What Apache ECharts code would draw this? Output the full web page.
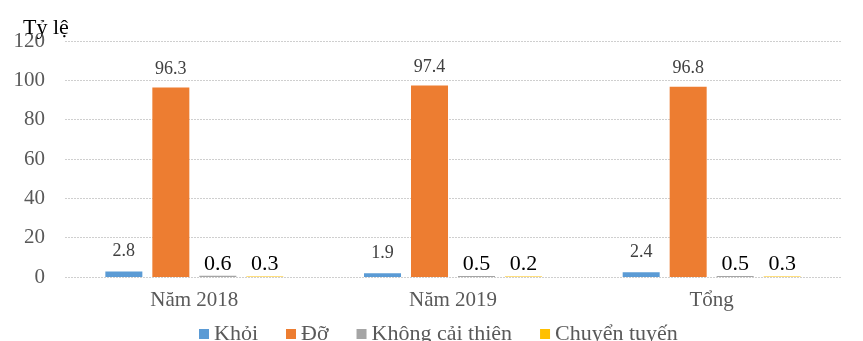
<!DOCTYPE html>
<html>
<head>
<meta charset="utf-8">
<script src="https://cdn.jsdelivr.net/npm/echarts@6/dist/echarts.min.js"></script>
<style>
  html, body { margin: 0; padding: 0; background: #fff; }
  #chart { width: 863px; height: 341px; }
</style>
</head>
<body>
<div id="chart"></div>
<script>
// Outcome rates (%) by year
const categories = ['Năm 2018', 'Năm 2019', 'Tổng'];
const khoi = [2.8, 1.9, 2.4];
const do_ = [96.3, 97.4, 96.8];
const khongCaiThien = [0.6, 0.5, 0.5];
const chuyenTuyen = [0.3, 0.2, 0.3];
const seriesNames = ['Khỏi', 'Đỡ', 'Không cải thiện', 'Chuyển tuyến'];
const yTicks = [0, 20, 40, 60, 80, 100, 120];

const FONT = '"Liberation Serif", "Times New Roman", serif';
const colors = ['#5B9BD5', '#ED7D31', '#A5A5A5', '#FFC000'];

const smallLabel = { show: true, position: 'top', distance: 10, color: '#404040', fontSize: 18, fontFamily: FONT };
const bigLabel = { show: true, position: 'top', distance: 1, color: '#000', fontSize: 22, fontFamily: FONT };

function bar(name, data, color, label) {
  return {
    name, type: 'bar', data, barWidth: 37, barGap: '27%',
    itemStyle: { color }, label, emphasis: { disabled: true }
  };
}

const chart = echarts.init(document.getElementById('chart'));
chart.setOption({
  animation: false,
  color: colors,
  title: {
    text: 'Tỷ lệ', left: 18, top: 12,
    textStyle: { fontFamily: FONT, fontSize: 22, fontWeight: 'normal', color: '#000' }
  },
  grid: { left: 65, right: 22, top: 41, bottom: 64 },
  legend: {
    data: seriesNames, left: 194, top: 318,
    icon: 'rect', itemWidth: 10, itemHeight: 10, itemGap: 28,
    textStyle: { fontFamily: FONT, fontSize: 22, color: '#595959' }
  },
  xAxis: {
    type: 'category', data: categories,
    axisLine: { show: false }, axisTick: { show: false },
    axisLabel: { fontFamily: FONT, fontSize: 21, color: '#595959', margin: 13 }
  },
  yAxis: {
    type: 'value', min: yTicks[0], max: yTicks[yTicks.length - 1], interval: 20,
    axisLine: { show: false }, axisTick: { show: false },
    axisLabel: { fontFamily: FONT, fontSize: 21, color: '#595959', margin: 20 },
    splitLine: { lineStyle: { color: '#cfcfcf', type: [2, 1], width: 1 } }
  },
  series: [
    bar(seriesNames[0], khoi, colors[0], Object.assign({}, smallLabel, { distance: 11 })),
    bar(seriesNames[1], do_, colors[1], Object.assign({}, smallLabel, { distance: 9 })),
    bar(seriesNames[2], khongCaiThien, colors[2], bigLabel),
    bar(seriesNames[3], chuyenTuyen, colors[3], bigLabel)
  ]
});
</script>
</body>
</html>
